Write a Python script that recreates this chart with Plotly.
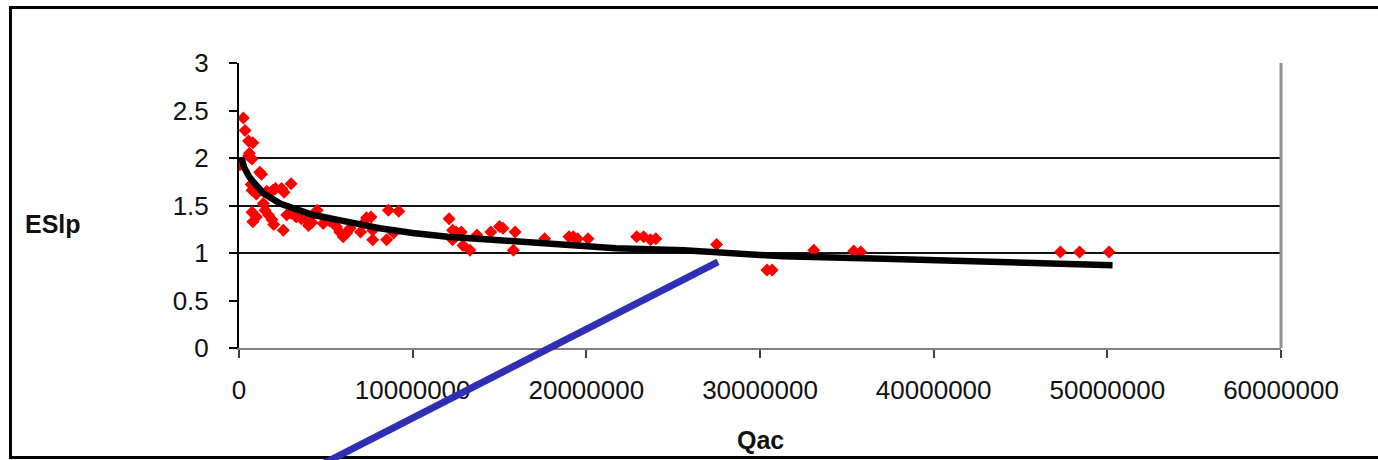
import plotly.graph_objects as go

# ---- data (Qac in millions, ESlp) ----
qac_millions = [0.05, 0.25, 0.35, 0.55, 0.8, 0.55, 0.75, 0.6, 1.2, 1.3,
                0.7, 0.75, 1.0, 1.4, 1.6, 1.95, 2.1, 2.45, 2.6, 3.0,
                0.75, 0.8, 1.0, 1.5, 1.7, 1.9, 2.0, 2.55, 2.75, 3.0,
                3.3, 3.6, 3.9, 4.0, 4.2, 4.5, 4.85, 5.2, 5.6, 5.8,
                6.0, 6.2, 6.4, 7.0, 7.15, 7.35, 7.6, 7.7, 7.7, 8.5,
                8.6, 9.2, 8.9, 12.1, 12.3, 12.5, 12.8, 12.3, 12.9, 13.3,
                13.7, 14.5, 15.0, 15.2, 15.9, 15.8, 17.6, 19.0, 19.25, 19.5,
                20.1, 22.9, 23.3, 23.7, 24.0, 27.5, 30.4, 30.7, 33.1, 35.4,
                35.8, 47.3, 48.4, 50.1]
eslp = [1.93, 2.42, 2.29, 2.18, 2.16, 2.02, 1.99, 2.05, 1.85, 1.83,
        1.72, 1.66, 1.62, 1.52, 1.65, 1.66, 1.68, 1.68, 1.64, 1.73,
        1.43, 1.33, 1.38, 1.45, 1.40, 1.35, 1.30, 1.24, 1.40, 1.42,
        1.38, 1.36, 1.35, 1.29, 1.32, 1.45, 1.31, 1.34, 1.28, 1.22,
        1.17, 1.21, 1.26, 1.22, 1.31, 1.37, 1.38, 1.24, 1.14, 1.14,
        1.45, 1.44, 1.21, 1.36, 1.24, 1.22, 1.22, 1.14, 1.08, 1.03,
        1.19, 1.22, 1.28, 1.26, 1.22, 1.03, 1.15, 1.17, 1.17, 1.15,
        1.15, 1.17, 1.17, 1.14, 1.15, 1.09, 0.82, 0.82, 1.03, 1.02,
        1.01, 1.01, 1.01, 1.01]

trend_qac_millions = [0.15, 0.3, 0.63, 1.0, 1.4, 2.36, 4.28, 6.2, 8.1, 10.0,
                      12.0, 15.0, 17.9, 21.7, 25.6, 28.8, 31.3, 37.1, 41.7, 45.0, 50.3]
trend_eslp = [2.0, 1.9, 1.79, 1.70, 1.63, 1.52, 1.40, 1.33, 1.26, 1.21,
              1.17, 1.135, 1.10, 1.05, 1.03, 1.0, 0.965, 0.94, 0.92, 0.89, 0.87]

x_tick_vals = [0, 10000000, 20000000, 30000000, 40000000, 50000000, 60000000]
x_tick_text = ["0", "10000000", "20000000", "30000000", "40000000", "50000000", "60000000"]
y_tick_vals = [0, 0.5, 1, 1.5, 2, 2.5, 3]
y_tick_text = ["0", "0.5", "1", "1.5", "2", "2.5", "3"]
y_grid_vals = [1, 1.5, 2, 3]

qac = [v * 1e6 for v in qac_millions]
trend_qac = [v * 1e6 for v in trend_qac_millions]

FONT = "Liberation Sans, Arial, sans-serif"

fig = go.Figure()
fig.add_trace(go.Scatter(x=qac, y=eslp, mode="markers",
                         marker=dict(symbol="diamond", size=10, color="#ff0000",
                                     line=dict(width=0)),
                         showlegend=False, hoverinfo="skip"))
fig.add_trace(go.Scatter(x=trend_qac, y=trend_eslp, mode="lines",
                         line=dict(color="#000000", width=6.5),
                         showlegend=False, hoverinfo="skip"))
# invisible trace to carry the grid axis
fig.add_trace(go.Scatter(x=[0], y=[0], yaxis="y2", mode="markers",
                         marker=dict(opacity=0), showlegend=False, hoverinfo="skip"))

fig.update_layout(
    width=1378, height=460,
    margin=dict(l=239, r=97, t=63, b=112),
    paper_bgcolor="white", plot_bgcolor="white",
    font=dict(family=FONT, size=26, color="#111111"),
    xaxis=dict(range=[0, 60000000], tickvals=x_tick_vals, ticktext=x_tick_text,
               showgrid=False, zeroline=False, showline=True, linecolor="#808080",
               linewidth=2, mirror=False, ticks="outside", ticklen=8, tickwidth=2,
               tickcolor="#404040", ticklabelstandoff=10,
               tickfont=dict(size=26, family=FONT, color="#111111")),
    yaxis=dict(range=[0, 3], tickvals=y_tick_vals, ticktext=y_tick_text,
               showgrid=False, zeroline=False, showline=True, linecolor="#000000",
               linewidth=2, ticks="outside", ticklen=8, tickwidth=2,
               tickcolor="#000000", ticklabelstandoff=15,
               tickfont=dict(size=26, family=FONT, color="#111111")),
    yaxis2=dict(range=[0, 3], overlaying="y", side="left", tickvals=y_grid_vals,
                showgrid=True, gridcolor="#111111", gridwidth=2,
                showticklabels=False, ticks="", zeroline=False, showline=False),
    annotations=[
        dict(text="<b>ESlp</b>", xref="paper", yref="paper", x=-0.1785, y=0.435,
             xanchor="center", yanchor="middle", showarrow=False,
             font=dict(size=25, family=FONT, color="#111111")),
        dict(text="<b>Qac</b>", xref="paper", yref="paper", x=0.5, y=-0.323,
             xanchor="center", yanchor="middle", showarrow=False,
             font=dict(size=25, family=FONT, color="#111111")),
    ],
    shapes=[
        # right border of plot area
        dict(type="line", xref="paper", yref="paper", x0=1, x1=1, y0=0, y1=1,
             line=dict(color="#909090", width=3)),
        # outer frame (right side off canvas)
        dict(type="rect", xref="paper", yref="paper", x0=-0.2193, x1=1.3,
             y0=-0.3842, y1=1.1947, line=dict(color="#000000", width=3)),
        # blue line drawn over the chart
        dict(type="line", xref="paper", yref="paper", x0=0.068, y0=-0.43,
             x1=0.4597, y1=0.3018, line=dict(color="#2f2fb5", width=7)),
    ],
)

fig.write_html("out.html", config={"displayModeBar": False},
               post_script="document.body.style.margin='0';document.body.style.overflow='hidden';")
